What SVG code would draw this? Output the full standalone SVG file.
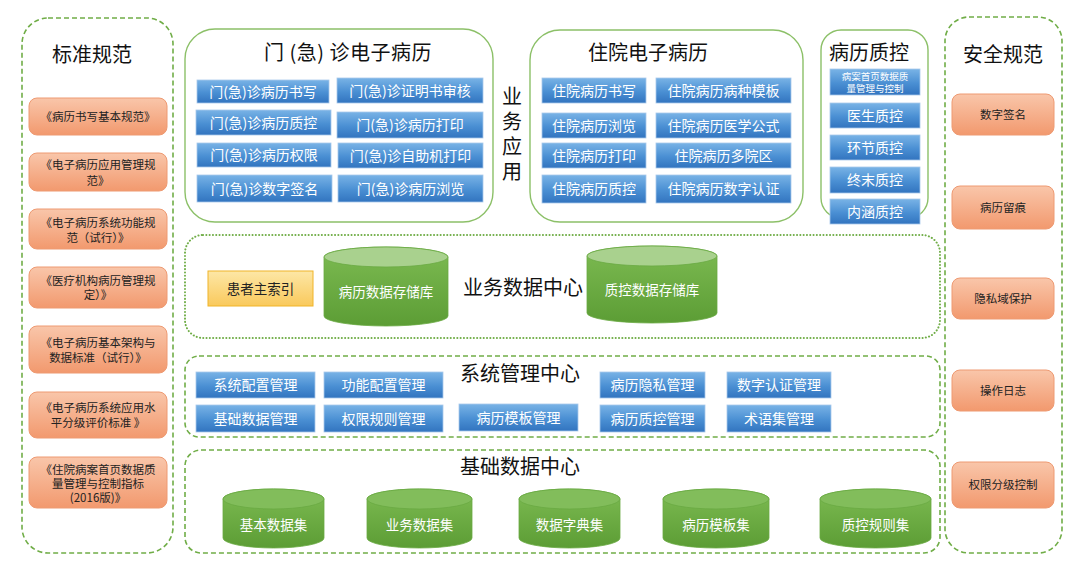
<svg xmlns="http://www.w3.org/2000/svg" width="1087" height="583" viewBox="0 0 1087 583">
<defs>
<linearGradient id="gBlue" x1="0" y1="0" x2="0" y2="1">
<stop offset="0" stop-color="#79b3e6"/><stop offset="0.55" stop-color="#4a8fd3"/><stop offset="1" stop-color="#3274bf"/>
</linearGradient>
<linearGradient id="gOrange" x1="0" y1="0" x2="0" y2="1">
<stop offset="0" stop-color="#f9c6aa"/><stop offset="1" stop-color="#f2996e"/>
</linearGradient>
<linearGradient id="gYellow" x1="0" y1="0" x2="0" y2="1">
<stop offset="0" stop-color="#fde7a6"/><stop offset="1" stop-color="#f9c95c"/>
</linearGradient>
<linearGradient id="gGreen" x1="0" y1="0" x2="0" y2="1">
<stop offset="0" stop-color="#7dbb52"/><stop offset="1" stop-color="#5c9d35"/>
</linearGradient>
<style>
.t{font-family:"Noto Sans CJK SC","Liberation Sans",sans-serif;}
.h{font-size:20px;fill:#111;text-anchor:middle;}
.pd{fill:none;stroke:#70ad47;stroke-width:1.6;stroke-dasharray:5 3;}
.pdot{fill:none;stroke:#70ad47;stroke-width:2;stroke-dasharray:0.1 3.2;stroke-linecap:round;}
.ps{fill:#fff;stroke:#8cc068;stroke-width:1.4;}
.ob{fill:url(#gOrange);stroke:#ee9a72;stroke-width:1;}
.ot{font-size:11.5px;fill:#222;text-anchor:middle;}
.bb{fill:url(#gBlue);stroke:#a8c9ea;stroke-width:0.8;}
.bt{font-size:14px;fill:#fff;text-anchor:middle;}
.st{font-size:9.5px;fill:#fff;text-anchor:middle;}
.cb{fill:url(#gGreen);stroke:#6aa942;stroke-width:0.8;}
.ct1{fill:#a9d18e;stroke:#6aa942;stroke-width:0.8;}
.ct2{fill:#82bd5b;stroke:#6aa942;stroke-width:0.8;}
.ctx{font-size:13.5px;fill:#fff;text-anchor:middle;}
</style>
</defs>
<rect width="1087" height="583" fill="#fff"/>

<!-- left panel: standards -->
<g id="standards">
<rect class="pd" x="22" y="18" width="151" height="535" rx="26"/>
<text class="t h" x="92" y="62">标准规范</text>
<rect class="ob" x="29" y="98" width="138" height="37" rx="8"/>
<text class="t ot" x="98" y="120.5">《病历书写基本规范》</text>
<rect class="ob" x="29" y="153" width="138" height="38" rx="8"/>
<text class="t ot" x="98" y="169">《电子病历应用管理规</text>
<text class="t ot" x="98" y="185">范》</text>
<rect class="ob" x="29" y="209" width="138" height="40" rx="8"/>
<text class="t ot" x="98" y="227">《电子病历系统功能规</text>
<text class="t ot" x="98" y="241.5">范（试行）》</text>
<rect class="ob" x="29" y="267" width="138" height="41" rx="8"/>
<text class="t ot" x="98" y="284.5">《医疗机构病历管理规</text>
<text class="t ot" x="98" y="299">定）》</text>
<rect class="ob" x="29" y="326" width="138" height="47" rx="8"/>
<text class="t ot" x="98" y="347">《电子病历基本架构与</text>
<text class="t ot" x="98" y="362">数据标准（试行）》</text>
<rect class="ob" x="29" y="392" width="138" height="46" rx="8"/>
<text class="t ot" x="98" y="412">《电子病历系统应用水</text>
<text class="t ot" x="98" y="427">平分级评价标准 》</text>
<rect class="ob" x="29" y="457" width="138" height="51" rx="8"/>
<text class="t ot" x="98" y="474">《住院病案首页数据质</text>
<text class="t ot" x="98" y="488">量管理与控制指标</text>
<text class="t ot" x="98" y="502">(2016版)》</text>
</g>

<!-- right panel: security -->
<g id="security">
<rect class="pd" x="945" y="17" width="117" height="536" rx="24"/>
<text class="t h" x="1003" y="62">安全规范</text>
<rect class="ob" x="952" y="94" width="102" height="41" rx="8"/>
<text class="t ot" x="1003" y="118.5">数字签名</text>
<rect class="ob" x="952" y="186" width="102" height="43" rx="8"/>
<text class="t ot" x="1003" y="211.5">病历留痕</text>
<rect class="ob" x="952" y="278" width="102" height="41" rx="8"/>
<text class="t ot" x="1003" y="302.5">隐私域保护</text>
<rect class="ob" x="952" y="370" width="102" height="41" rx="8"/>
<text class="t ot" x="1003" y="394.5">操作日志</text>
<rect class="ob" x="952" y="462" width="102" height="46" rx="8"/>
<text class="t ot" x="1003" y="489">权限分级控制</text>
</g>

<!-- outpatient EMR -->
<g id="outpatient">
<rect class="ps" x="185" y="29" width="308" height="193" rx="30"/>
<text class="t h" x="348" y="60" style="letter-spacing:0.5px">门 (急) 诊电子病历</text>
<rect class="bb" x="197" y="80" width="132" height="23"/>
<text class="t bt" x="263" y="96.5">门(急)诊病历书写</text>
<rect class="bb" x="196" y="110" width="135" height="25"/>
<text class="t bt" x="263.5" y="127.5">门(急)诊病历质控</text>
<rect class="bb" x="197" y="143" width="134" height="24"/>
<text class="t bt" x="264" y="160">门(急)诊病历权限</text>
<rect class="bb" x="197" y="175" width="135" height="27"/>
<text class="t bt" x="264.5" y="193.5">门(急)诊数字签名</text>
<rect class="bb" x="337" y="78" width="146" height="25"/>
<text class="t bt" x="410" y="95.5">门(急)诊证明书审核</text>
<rect class="bb" x="337" y="112" width="146" height="26"/>
<text class="t bt" x="410" y="130">门(急)诊病历打印</text>
<rect class="bb" x="338" y="143" width="145" height="25"/>
<text class="t bt" x="410.5" y="160.5">门(急)诊自助机打印</text>
<rect class="bb" x="338" y="175" width="145" height="27"/>
<text class="t bt" x="410.5" y="193.5">门(急)诊病历浏览</text>
</g>

<!-- business application label -->
<g id="biz-app-label">
<text class="t" x="512" y="86" writing-mode="vertical-rl" style="font-size:20px;fill:#111;letter-spacing:5px">业务应用</text>
</g>

<!-- inpatient EMR -->
<g id="inpatient">
<rect class="ps" x="530" y="30" width="273" height="192" rx="30"/>
<text class="t h" x="648" y="60">住院电子病历</text>
<rect class="bb" x="542" y="78" width="104" height="25"/>
<text class="t bt" x="594" y="95.5">住院病历书写</text>
<rect class="bb" x="542" y="113" width="104" height="25"/>
<text class="t bt" x="594" y="130.5">住院病历浏览</text>
<rect class="bb" x="542" y="143" width="104" height="25"/>
<text class="t bt" x="594" y="160.5">住院病历打印</text>
<rect class="bb" x="542" y="175" width="104" height="28"/>
<text class="t bt" x="594" y="194">住院病历质控</text>
<rect class="bb" x="656" y="78" width="135" height="25"/>
<text class="t bt" x="723.5" y="95.5">住院病历病种模板</text>
<rect class="bb" x="656" y="113" width="135" height="25"/>
<text class="t bt" x="723.5" y="130.5">住院病历医学公式</text>
<rect class="bb" x="656" y="143" width="135" height="25"/>
<text class="t bt" x="723.5" y="160.5">住院病历多院区</text>
<rect class="bb" x="656" y="175" width="135" height="28"/>
<text class="t bt" x="723.5" y="194">住院病历数字认证</text>
</g>

<!-- EMR quality control -->
<g id="qc">
<rect class="ps" x="821" y="30" width="107" height="188" rx="20"/>
<text class="t h" x="869" y="60">病历质控</text>
<rect class="bb" x="830" y="69" width="90" height="26"/>
<text class="t st" x="875" y="79.5">病案首页数据质</text>
<text class="t st" x="875" y="92">量管理与控制</text>
<rect class="bb" x="830" y="103" width="90" height="25"/>
<text class="t bt" x="875" y="120.5">医生质控</text>
<rect class="bb" x="830" y="135" width="90" height="25"/>
<text class="t bt" x="875" y="152.5">环节质控</text>
<rect class="bb" x="830" y="167" width="90" height="26"/>
<text class="t bt" x="875" y="185">终末质控</text>
<rect class="bb" x="830" y="199" width="90" height="25"/>
<text class="t bt" x="875" y="216.5">内涵质控</text>
</g>

<!-- business data center -->
<g id="biz-data-center">
<rect class="pdot" x="185" y="235" width="755" height="103" rx="18"/>
<text class="t h" x="523" y="295">业务数据中心</text>
<rect x="208" y="271" width="105" height="35" fill="url(#gYellow)" stroke="#f0b429" stroke-width="1"/>
<text class="t" x="260.5" y="293.5" style="font-size:13.5px;fill:#222;text-anchor:middle">患者主索引</text>
<path class="cb" d="M324 257 V316 A62 10 0 0 0 448 316 V257 A62 10 0 0 0 324 257 Z"/>
<ellipse class="ct1" cx="386" cy="257" rx="62" ry="10"/>
<text class="t ctx" x="386" y="296.5">病历数据存储库</text>
<path class="cb" d="M587 256 V313 A65 10 0 0 0 717 313 V256 A65 10 0 0 0 587 256 Z"/>
<ellipse class="ct1" cx="652" cy="256" rx="65" ry="10"/>
<text class="t ctx" x="652" y="294.5">质控数据存储库</text>
</g>

<!-- system management center -->
<g id="sys-mgmt-center">
<rect class="pd" x="185" y="356" width="755" height="81" rx="14"/>
<text class="t h" x="520" y="381">系统管理中心</text>
<rect class="bb" x="196" y="372" width="119" height="26"/>
<text class="t bt" x="255.5" y="390">系统配置管理</text>
<rect class="bb" x="324" y="372" width="119" height="26"/>
<text class="t bt" x="383.5" y="390">功能配置管理</text>
<rect class="bb" x="600" y="372" width="105" height="26"/>
<text class="t bt" x="652.5" y="390">病历隐私管理</text>
<rect class="bb" x="727" y="372" width="104" height="26"/>
<text class="t bt" x="779" y="390">数字认证管理</text>
<rect class="bb" x="196" y="405" width="119" height="27"/>
<text class="t bt" x="255.5" y="423.5">基础数据管理</text>
<rect class="bb" x="324" y="405" width="119" height="27"/>
<text class="t bt" x="383.5" y="423.5">权限规则管理</text>
<rect class="bb" x="459" y="404" width="119" height="27"/>
<text class="t bt" x="518.5" y="422.5">病历模板管理</text>
<rect class="bb" x="600" y="405" width="105" height="27"/>
<text class="t bt" x="652.5" y="423.5">病历质控管理</text>
<rect class="bb" x="727" y="405" width="104" height="27"/>
<text class="t bt" x="779" y="423.5">术语集管理</text>
</g>

<!-- base data center -->
<g id="base-data-center">
<rect class="pd" x="185" y="450" width="755" height="103" rx="16"/>
<text class="t h" x="520" y="474">基础数据中心</text>
<path class="cb" d="M223 499 V538 A50.5 10 0 0 0 324 538 V499 A50.5 10 0 0 0 223 499 Z"/>
<ellipse class="ct2" cx="273.5" cy="499" rx="50.5" ry="10"/>
<text class="t ctx" x="273.5" y="530">基本数据集</text>
<path class="cb" d="M367 499 V538 A52.5 10 0 0 0 472 538 V499 A52.5 10 0 0 0 367 499 Z"/>
<ellipse class="ct2" cx="419.5" cy="499" rx="52.5" ry="10"/>
<text class="t ctx" x="419.5" y="530">业务数据集</text>
<path class="cb" d="M519 499 V538 A50.5 10 0 0 0 620 538 V499 A50.5 10 0 0 0 519 499 Z"/>
<ellipse class="ct2" cx="569.5" cy="499" rx="50.5" ry="10"/>
<text class="t ctx" x="569.5" y="530">数据字典集</text>
<path class="cb" d="M663 499 V538 A53 10 0 0 0 769 538 V499 A53 10 0 0 0 663 499 Z"/>
<ellipse class="ct2" cx="716" cy="499" rx="53" ry="10"/>
<text class="t ctx" x="716" y="530">病历模板集</text>
<path class="cb" d="M820 499 V538 A55.5 10 0 0 0 931 538 V499 A55.5 10 0 0 0 820 499 Z"/>
<ellipse class="ct2" cx="875.5" cy="499" rx="55.5" ry="10"/>
<text class="t ctx" x="875.5" y="530">质控规则集</text>
</g>

<g id="connectors"></g>
</svg>
